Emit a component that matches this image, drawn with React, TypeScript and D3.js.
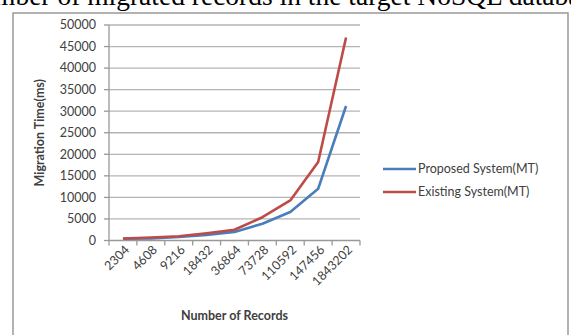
import React from "react";
import * as d3 from "d3";

const categories = ["2304", "4608", "9216", "18432", "36864", "73728", "110592", "147456", "1843202"];
const proposed = [400, 500, 800, 1300, 2000, 3900, 6600, 12000, 31200];
const existing = [450, 700, 1000, 1700, 2500, 5400, 9300, 18200, 47100];
const yTicks = [0, 5000, 10000, 15000, 20000, 25000, 30000, 35000, 40000, 45000, 50000];
const seriesNames = ["Proposed System(MT)", "Existing System(MT)"];
const colors = ["#4a7ebb", "#be4b48"];

const W = 571;
const H = 335;
const FONT = "Lato, 'Open Sans', sans-serif";

export default function App() {
  const left = 109;
  const right = 360;
  const top = 25;
  const bottom = 240.5;

  const x = d3.scaleBand<string>().domain(categories).range([left, right]);
  const y = d3.scaleLinear().domain([0, 50000]).range([bottom, top]);
  const line = d3
    .line<number>()
    .x((_, i) => (x(categories[i]) as number) + x.bandwidth() / 2)
    .y((d) => y(d));

  const series = [proposed, existing];
  const legendY = [169, 192];

  return (
    <svg
      width={W}
      height={H}
      style={{ position: "absolute", left: 0, top: 0, background: "#fff" }}
    >
      <text x={-6} y={5} fontFamily="'Liberation Serif', 'Times New Roman', serif" fontSize={27.5} fill="#000">
        mber of migrated records in the target NoSQL database
      </text>
      <path d={`M13,${H} L13,13 L568,13 L568,${H}`} fill="none" stroke="#999" strokeWidth={1.5} />

      {yTicks.map((t) => (
        <g key={t}>
          {t > 0 && (
            <line x1={left} x2={right} y1={y(t)} y2={y(t)} stroke="#b4b4b4" strokeWidth={1.3} />
          )}
          <line x1={left - 5} x2={left} y1={y(t)} y2={y(t)} stroke="#999" strokeWidth={1.3} />
          <text
            x={96}
            y={y(t)}
            dy="0.35em"
            textAnchor="end"
            fontFamily={FONT}
            fontSize={12.5}
            fill="#404040"
          >
            {t}
          </text>
        </g>
      ))}

      <line x1={left} x2={left} y1={top} y2={bottom} stroke="#999" strokeWidth={1.3} />
      <line x1={left} x2={right} y1={bottom} y2={bottom} stroke="#999" strokeWidth={1.3} />
      {categories.concat([""]).map((c, i) => {
        const xx = left + i * x.step();
        return <line key={"t" + i} x1={xx} x2={xx} y1={bottom} y2={bottom + 5} stroke="#999" strokeWidth={1.3} />;
      })}
      {categories.map((c) => {
        const cx = (x(c) as number) + x.bandwidth() / 2 + 4;
        const cy = bottom + 7;
        return (
          <text
            key={c}
            transform={`translate(${cx},${cy}) rotate(-45)`}
            textAnchor="end"
            dy="0.35em"
            fontFamily={FONT}
            fontSize={12.5}
            fill="#404040"
          >
            {c}
          </text>
        );
      })}

      {series.map((s, i) => (
        <path key={i} d={line(s) as string} fill="none" stroke={colors[i]} strokeWidth={2.6} strokeLinejoin="round" />
      ))}

      <text
        x={(left + right) / 2}
        y={320}
        textAnchor="middle"
        fontFamily={FONT}
        fontWeight="bold"
        fontSize={12.5}
        fill="#404040"
      >
        Number of Records
      </text>
      <text
        transform={`translate(44,${(top + bottom) / 2}) rotate(-90)`}
        textAnchor="middle"
        fontFamily={FONT}
        fontWeight="bold"
        fontSize={12.5}
        fill="#404040"
      >
        Migration Time(ms)
      </text>

      {seriesNames.map((n, i) => (
        <g key={n}>
          <line x1={383} x2={416} y1={legendY[i]} y2={legendY[i]} stroke={colors[i]} strokeWidth={2.6} />
          <text x={418} y={legendY[i]} dy="0.35em" fontFamily={FONT} fontSize={12.5} fill="#404040">
            {n}
          </text>
        </g>
      ))}
    </svg>
  );
}
